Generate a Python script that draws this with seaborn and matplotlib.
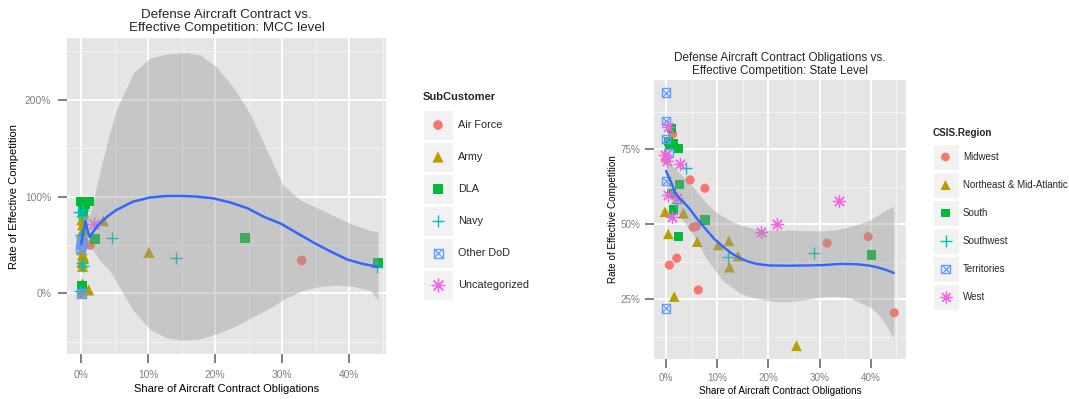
import numpy as np
import pandas as pd
import matplotlib
matplotlib.use("Agg")
import matplotlib.pyplot as plt
import seaborn as sns
from matplotlib.patches import Rectangle

# ---------------- data: left panel (MCC level) ----------------
mcc_groups = ["Air Force", "Army", "DLA", "Navy", "Other DoD", "Uncategorized"]
mcc_af_x = [0.1, 0.2, 0.3, 1.3, 32.9]
mcc_af_y = [0, 48, 55, 50, 34]
mcc_army_x = [0.5, 0.2, 0.3, 0.1, 0.2, 0.3, 0.1, 0.2, 0.3, 0.1, 0.2, 0.3, 0.1, 0.2, 0.3, 0.2, 0.1, 1.1, 3.3, 10.1]
mcc_army_y = [94, 88, 82, 76, 71, 66, 62, 58, 53, 45, 40, 36, 32, 28, 38, 10, 5, 3.5, 75, 42.4]
mcc_dla_x = [0.0, 0.5, 1.1, 0.2, 2.0, 24.5, 44.3, 0.1]
mcc_dla_y = [95, 92, 95, 85, 56.5, 57, 31.7, 8]
mcc_navy_x = [-0.3, 0.1, 0.2, -0.1, 0.1, 0.3, -0.2, 4.6, 14.2, 44.1]
mcc_navy_y = [84, 80, 86, 60, 31, 28, 2, 56.9, 36.2, 27]
mcc_odod_x = [0.0, 0.1, 0.0, -0.1]
mcc_odod_y = [50, 55, 0, 46]
mcc_unc_x = [1.9]
mcc_unc_y = [71.7]

# smooth fit (loess line and its band)
mcc_fit_x = [0.0, 0.3, 0.64, 0.9, 1.24, 1.8, 2.7, 4.0, 5.2, 7.7, 10.2, 12.5, 14.7, 17.2,
             19.7, 22.2, 24.8, 27.3, 29.8, 32.3, 34.8, 37.3, 39.7, 42.0, 44.2]
mcc_fit_y = [51, 64, 75, 66, 58.5, 64, 72, 80, 86, 94.7, 99, 100.5, 100.7, 100,
             98.2, 94, 88, 79, 72, 62, 52, 43, 35, 30.5, 27.5]
mcc_hi_x = [0.0, 0.64, 1.24, 1.9, 2.7, 4.0, 5.2, 7.7, 10.2, 12.5, 13.7, 15.7, 17.7, 20.2,
            22.7, 25.2, 27.7, 30.1, 32.6, 35.6, 38.1, 40.6, 43.1, 44.3]
mcc_hi_y = [58, 85, 80, 98, 124, 160, 189, 227, 243, 247, 248, 248.8, 246.6, 234,
            213, 186, 148, 112, 97, 87, 79, 71, 65, 63.7]
mcc_lo_x = [0.0, 0.64, 1.24, 1.9, 2.9, 4.4, 5.2, 7.7, 10.2, 12.7, 15.0, 17.7, 20.2, 22.7,
            25.2, 28.2, 30.5, 33.1, 35.6, 38.1, 40.6, 43.1, 44.3]
mcc_lo_y = [44, 65, 48, 43, 33, 22, 12, -17, -37, -46, -48.5, -47, -42, -35,
            -26, -15, -5, 3, 7, 8.6, 7, 3, -7]

# ---------------- data: right panel (state level) ----------------
st_groups = ["Midwest", "Northeast & Mid-Atlantic", "South", "Southwest", "Territories", "West"]
st_mw_x = [1.3, 0.1, 4.7, 7.6, 5.3, 5.9, 0.65, 2.1, 6.3, 31.5, 39.5, 44.6]
st_mw_y = [80.1, 71.5, 64.8, 62, 49, 49.3, 36.4, 38.7, 28.1, 43.7, 45.9, 20.5]
st_ne_x = [-0.2, 0.45, 1.6, 3.4, 6.1, 10.2, 12.3, 12.4, 14.1, 25.5]
st_ne_y = [54.2, 46.8, 25.9, 53.7, 44.2, 43.1, 44.5, 35.7, 39.4, 9.5]
st_so_x = [1.1, 0.45, 0.8, 1.4, 2.4, 2.7, 1.1, 1.4, 2.5, 7.6, 40.2]
st_so_y = [82, 77.5, 76.8, 77, 75.3, 63.3, 60.3, 54.8, 45.9, 51.4, 39.8]
st_sw_x = [4.0, 2.1, 12.2, 28.9]
st_sw_y = [68.7, 57, 39, 40.6]
st_te_x = [0, 0, 0, 0.46, 0, 0]
st_te_y = [93.9, 84.4, 78.4, 73.7, 64.5, 22.0]
st_we_x = [0.45, -0.2, 0.1, 2.7, 0.45, 2.1, 1.1, 18.6, 21.6, 33.8]
st_we_y = [82.5, 73.1, 71, 70.1, 59.8, 58.7, 52.5, 47.5, 50.1, 57.8]

st_fit_x = [0, 1, 1.8, 2.7, 3.4, 4.7, 6, 7.9, 9.5, 11.2, 12.8, 14.5, 16, 17.7, 20,
            24.2, 28, 30.7, 34, 37.2, 39.5, 41.2, 43, 44.5]
st_fit_y = [67.8, 64, 60.5, 58.5, 57.5, 55, 52, 48.1, 45, 42.5, 40.3, 38.7, 37.6, 36.8, 36.3,
            36.2, 36.3, 36.4, 36.8, 36.7, 36.3, 35.7, 34.8, 33.8]
st_hi_x = [0, 1.5, 2.7, 4.7, 6, 7.9, 9.5, 11.2, 12.8, 14.5, 17.7, 21, 24.2, 28, 30.7,
           33.5, 35.9, 38, 39.8, 41.2, 42.4, 43.5, 44.5]
st_hi_y = [72.5, 69, 67, 63.7, 61, 57, 54.5, 52.5, 51, 49.8, 48.3, 48, 48.1, 47.9, 47.8,
           48.3, 49.2, 50.3, 51.4, 52.8, 54.2, 55.2, 56.1]
st_lo_x = [0, 1.5, 2.7, 4.5, 6, 7.9, 9.2, 11.2, 12.5, 14.5, 15.8, 17.7, 21, 24.2, 27.5,
           30.7, 33.5, 35.9, 38, 39.8, 41.2, 42.4, 43.5, 44.5]
st_lo_y = [63.5, 57, 52.5, 48.5, 44.5, 38.5, 35.5, 31, 29.5, 27, 26.2, 25.3, 24.3, 24.2, 24.9,
           25.9, 26, 25.5, 23.8, 22.5, 20.5, 18.1, 15, 12]

palette = ["#F8766D", "#B79F00", "#00BA38", "#00BFC4", "#619CFF", "#F564E3"]
shapes = ["circle", "triangle", "square", "plus", "sqx", "asterisk"]

# ---------------- figure ----------------
sns.set_theme(style="darkgrid")
plt.rcParams['font.family'] = ['Liberation Sans', 'DejaVu Sans']

W, H = 1069, 399
fig = plt.figure(figsize=(W / 100, H / 100), dpi=100)
fig.patch.set_facecolor("white")


def px_axes(l, t, r, b):
    return fig.add_axes([l / W, 1 - b / H, (r - l) / W, (b - t) / H])


PX = 0.72  # points per pixel at dpi 100


def s_of(px):
    return (px * PX) ** 2


def draw_points(ax, xs, ys, shape, color, scale=1.0, zorder=2):
    df = pd.DataFrame({"x": xs, "y": ys})
    if shape == "circle":
        sns.scatterplot(data=df, x="x", y="y", ax=ax, marker="o", color=color,
                        s=s_of(9.6 * scale), edgecolor="none", zorder=zorder, legend=False)
    elif shape == "triangle":
        sns.scatterplot(data=df, x="x", y="y", ax=ax, marker="^", color=color,
                        s=s_of(11.2 * scale), edgecolor="none", zorder=zorder, legend=False)
    elif shape == "square":
        sns.scatterplot(data=df, x="x", y="y", ax=ax, marker="s", color=color,
                        s=s_of(9.8 * scale), edgecolor="none", zorder=zorder, legend=False)
    elif shape == "plus":
        sns.scatterplot(data=df, x="x", y="y", ax=ax, marker="+", color=color,
                        s=s_of(12.5 * scale), linewidth=1.0, zorder=zorder, legend=False)
    elif shape == "sqx":
        sns.scatterplot(data=df, x="x", y="y", ax=ax, marker="s", facecolor="none",
                        edgecolor=color, s=s_of(9.0 * scale), linewidth=1.0,
                        zorder=zorder, legend=False)
        sns.scatterplot(data=df, x="x", y="y", ax=ax, marker="x", color=color,
                        s=s_of(9.0 * scale), linewidth=0.9, zorder=zorder, legend=False)
    elif shape == "asterisk":
        sns.scatterplot(data=df, x="x", y="y", ax=ax, marker=(8, 2, 0), color=color,
                        s=s_of(12.8 * scale), linewidth=0.9, zorder=zorder, legend=False)


def style_panel(ax, xlim, ylim, xmaj, ymaj, xmin, ymin, fs_tick, fs_lab,
                xlabel, ylabel, ylab_x, xlab_y, pad):
    ax.set_facecolor("#E5E5E5")
    for sp in ax.spines.values():
        sp.set_visible(False)
    ax.set_xlim(xlim)
    ax.set_ylim(ylim)
    ax.set_xticks(xmaj)
    ax.set_xticklabels([f"{v:g}%" for v in xmaj])
    ax.set_yticks(ymaj)
    ax.set_yticklabels([f"{v:g}%" for v in ymaj])
    ax.set_xticks(xmin, minor=True)
    ax.set_yticks(ymin, minor=True)
    ax.grid(which="major", color="white", linewidth=1.4)
    ax.grid(which="minor", color="#F2F2F2", linewidth=0.8)
    ax.set_axisbelow(True)
    ax.tick_params(which="major", direction="out", length=6.3, width=1.4,
                   color="#7F7F7F", labelcolor="#7F7F7F", labelsize=fs_tick, pad=pad,
                   bottom=True, left=True)
    ax.tick_params(which="minor", length=0)
    ax.set_xlabel(xlabel, fontsize=fs_lab, color="black")
    ax.set_ylabel(ylabel, fontsize=fs_lab, color="black")
    ax.yaxis.set_label_coords(ylab_x, 0.5)
    ax.xaxis.set_label_coords(0.5, xlab_y)


# ---------- left panel ----------
axL = px_axes(67.3, 38.3, 386, 354)
mcc_x = [mcc_af_x, mcc_army_x, mcc_dla_x, mcc_navy_x, mcc_odod_x, mcc_unc_x]
mcc_y = [mcc_af_y, mcc_army_y, mcc_dla_y, mcc_navy_y, mcc_odod_y, mcc_unc_y]
for xs, ys, shp, col in zip(mcc_x, mcc_y, shapes, palette):
    draw_points(axL, xs, ys, shp, col)

# band (drawn over points as in the original)
band_x = np.union1d(mcc_hi_x, mcc_lo_x)
axL.fill_between(band_x, np.interp(band_x, mcc_lo_x, mcc_lo_y),
                 np.interp(band_x, mcc_hi_x, mcc_hi_y),
                 color="#999999", alpha=0.4, linewidth=0, zorder=3)
sns.lineplot(x=mcc_fit_x, y=mcc_fit_y, ax=axL, color="#3366FF", linewidth=1.8,
             sort=False, estimator=None, zorder=4)

style_panel(axL, (-2.09, 45.5), (-62.7, 263.6), [0, 10, 20, 30, 40], [0, 100, 200],
            [5, 15, 25, 35, 45], [-50, 50, 150, 250], 7.4, 8.0,
            "Share of Aircraft Contract Obligations", "Rate of Effective Competition",
            -0.152, -0.096, 5.2)
axL.set_title("Defense Aircraft Contract vs.\nEffective Competition: MCC level",
              fontsize=9.6, pad=5, linespacing=1.12)

# ---------- right panel ----------
axR = px_axes(654.3, 80, 906, 359)
st_x = [st_mw_x, st_ne_x, st_so_x, st_sw_x, st_te_x, st_we_x]
st_y = [st_mw_y, st_ne_y, st_so_y, st_sw_y, st_te_y, st_we_y]
for xs, ys, shp, col in zip(st_x, st_y, shapes, palette):
    draw_points(axR, xs, ys, shp, col, scale=0.95)

band_x2 = np.union1d(st_hi_x, st_lo_x)
axR.fill_between(band_x2, np.interp(band_x2, st_lo_x, st_lo_y),
                 np.interp(band_x2, st_hi_x, st_hi_y),
                 color="#999999", alpha=0.4, linewidth=0, zorder=3)
sns.lineplot(x=st_fit_x, y=st_fit_y, ax=axR, color="#3366FF", linewidth=1.7,
             sort=False, estimator=None, zorder=4)

style_panel(axR, (-2.29, 46.9), (5.1, 98.1), [0, 10, 20, 30, 40], [25, 50, 75],
            [5, 15, 25, 35, 45], [12.5, 37.5, 62.5, 87.5], 7.1, 7.1,
            "Share of Aircraft Contract Obligations", "Rate of Effective Competition",
            -0.145, -0.095, 4.0)
axR.set_title("Defense Aircraft Contract Obligations vs.\nEffective Competition: State Level",
              fontsize=8.5, pad=4, linespacing=1.2)

# ---------- legends (pixel-coordinate overlay) ----------
axO = fig.add_axes([0, 0, 1, 1])
axO.set_xlim(0, W)
axO.set_ylim(H, 0)
axO.axis("off")


def draw_legend(title, labels, x0, title_y, key_top, key_w, key_h, step, label_x,
                fs_title, fs_lab, scale):
    axO.text(x0, title_y, title, fontsize=fs_title, fontweight="bold",
             ha="left", va="center")
    for i, (lab, shp, col) in enumerate(zip(labels, shapes, palette)):
        top = key_top + i * step
        axO.add_patch(Rectangle((x0, top), key_w, key_h, facecolor="#F2F2F2",
                                edgecolor="white", linewidth=0.8))
        draw_points(axO, [x0 + key_w / 2], [top + key_h / 2], shp, col, scale=scale, zorder=5)
        axO.text(label_x, top + key_h / 2, lab, fontsize=fs_lab, ha="left", va="center")


draw_legend("SubCustomer", mcc_groups, 423, 97, 110, 30, 30, 32, 458, 8.0, 7.8, 1.0)
draw_legend("CSIS.Region", st_groups, 932.5, 133, 144, 26, 26, 28, 963, 7.1, 7.0, 0.9)
axO.set_xlim(0, W)
axO.set_ylim(H, 0)
axO.set_xlabel("")
axO.set_ylabel("")

fig.savefig("out.png", dpi=100, facecolor="white")
